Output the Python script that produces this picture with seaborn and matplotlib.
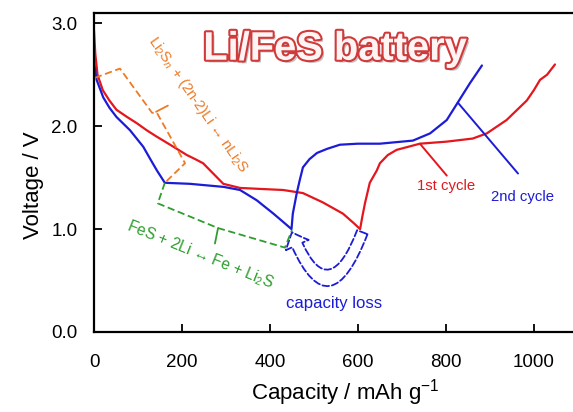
import numpy as np
import pandas as pd
import matplotlib
matplotlib.use("Agg")
import matplotlib.pyplot as plt
import matplotlib.patheffects as pe
from matplotlib.patches import FancyArrowPatch
from matplotlib import font_manager as fm
import seaborn as sns

# ---------------- data ----------------
cap_1st = [0, 3, 8, 20, 35, 51, 75, 97, 120, 142, 173, 211, 230, 248, 271, 294, 332, 380, 430, 475, 520,
           566, 590, 605,
           610, 616, 627, 643, 650, 668, 688, 741, 802, 861, 893, 938, 984, 1000, 1014, 1030, 1048]
v_1st = [2.93, 2.70, 2.50, 2.35, 2.25, 2.16, 2.09, 2.03, 1.96, 1.90, 1.82, 1.72, 1.68, 1.64, 1.54, 1.44, 1.40,
         1.39, 1.38, 1.35, 1.26, 1.15, 1.06, 1.00,
         1.12, 1.25, 1.45, 1.57, 1.64, 1.72, 1.77, 1.83, 1.85, 1.88, 1.93, 2.06, 2.25, 2.35, 2.45, 2.50, 2.60]

cap_2nd = [0, 6, 21, 35, 51, 82, 112, 128, 143, 161, 218, 295, 332, 370, 408, 430, 449,
           452, 461, 468, 475, 490, 507, 530, 559, 600, 650, 725, 764, 802, 827, 855, 882]
v_2nd = [2.62, 2.45, 2.28, 2.18, 2.09, 1.96, 1.80, 1.68, 1.57, 1.45, 1.44, 1.41, 1.38, 1.28, 1.15, 1.07, 1.00,
         1.15, 1.35, 1.48, 1.60, 1.68, 1.74, 1.78, 1.82, 1.83, 1.83, 1.86, 1.93, 2.06, 2.23, 2.42, 2.59]

cycle_names = ["1st cycle", "2nd cycle"]
x_ticks = [0, 200, 400, 600, 800, 1000]
y_ticks = [0.0, 1.0, 2.0, 3.0]
y_tick_labels = ["0.0", "1.0", "2.0", "3.0"]

# annotation geometry (data coords)
orange_bracket_x = [2, 59, 132, 143, 207, 161]
orange_bracket_y = [2.47, 2.56, 2.13, 2.13, 1.64, 1.45]
orange_tick_x = [141, 168]
orange_tick_y = [2.14, 2.20]
green_bracket_x = [161, 145, 282, 290, 434, 450]
green_bracket_y = [1.45, 1.25, 1.01, 1.00, 0.82, 0.99]
green_tick_x = [282, 275]
green_tick_y = [1.01, 0.86]

RED = "#e3171d"
BLUE = "#1c1cd6"
ORANGE = "#ee7a26"
GREEN = "#2e9e2e"

# ---------------- style ----------------
sns.set_theme(style="white")
names = {f.name for f in fm.fontManager.ttflist}
HAS_NARROW = "Liberation Sans Narrow" in names
NARROW = "Liberation Sans Narrow" if HAS_NARROW else "Liberation Sans"
NS = 1.0 if HAS_NARROW else 0.86
plt.rcParams["font.family"] = ["Liberation Sans", "DejaVu Sans"]
plt.rcParams["mathtext.fontset"] = "custom"
plt.rcParams["mathtext.rm"] = NARROW
plt.rcParams["mathtext.it"] = NARROW + ":italic"
plt.rcParams["text.color"] = "black"
plt.rcParams["axes.labelcolor"] = "black"

fig = plt.figure(figsize=(5.73, 4.12), dpi=100)
ax = fig.add_axes([94 / 573, 80 / 412, 479 / 573, 319 / 412])

df = pd.DataFrame({
    "cap": cap_1st + cap_2nd,
    "V": v_1st + v_2nd,
    "cycle": [cycle_names[0]] * len(cap_1st) + [cycle_names[1]] * len(cap_2nd),
})
sns.lineplot(data=df, x="cap", y="V", hue="cycle", sort=False, estimator=None,
             palette={cycle_names[0]: RED, cycle_names[1]: BLUE}, lw=1.6, legend=False, ax=ax)

ax.set_xlim(0, 1089)
ax.set_ylim(0, 3.1)
ax.set_xticks(x_ticks)
ax.set_yticks(y_ticks)
ax.set_yticklabels(y_tick_labels)
ax.tick_params(direction="in", length=6, width=1.3, labelsize=13.5, colors="black",
               bottom=True, left=True, top=False, right=False)
ax.tick_params(axis="y", pad=12)
ax.tick_params(axis="x", pad=16)
for s in ["left", "bottom", "top"]:
    ax.spines[s].set_color("black")
    ax.spines[s].set_linewidth(1.6)
ax.spines["right"].set_visible(False)

ax.set_xlabel("Capacity / mAh g$^{\\mathregular{-1}}$", fontsize=16, color="black")
ax.set_ylabel("Voltage / V", fontsize=16, color="black")
ax.xaxis.set_label_coords((345 - 94) / 479, -0.14)
ax.yaxis.set_label_coords(-0.105, 0.46)

# title-like label
ax.text(0.503, 0.888, "Li/FeS battery", transform=ax.transAxes, ha="center", va="center",
        fontsize=35 * 0.82 if not HAS_NARROW else 35, fontweight="bold", family=NARROW, color="#fff4f4",
        path_effects=[pe.withSimplePatchShadow(offset=(2, -2), shadow_rgbFace="#888888", alpha=0.5),
                      pe.Stroke(linewidth=3.0, foreground="#d03a3a"), pe.Normal()])

# cycle labels and leaders
ax.plot([741, 802], [1.83, 1.52], color=RED, lw=1.4)
ax.text(800, 1.42, cycle_names[0], color=RED, fontsize=12.5 * NS, family=NARROW, ha="center", va="center")
ax.plot([827, 964], [2.23, 1.54], color=BLUE, lw=1.4)
ax.text(975, 1.31, cycle_names[1], color=BLUE, fontsize=12.5 * NS, family=NARROW, ha="center", va="center")

# orange bracket
ax.plot(orange_bracket_x, orange_bracket_y, color=ORANGE, lw=1.3, ls=(0, (4, 2)))
ax.plot(orange_tick_x, orange_tick_y, color=ORANGE, lw=1.3)
ax.text(236, 2.21, "Li$_2$S$_n$ + (2n-2)Li \u2194 nLi$_2$S", color=ORANGE, fontsize=12.5 * NS,
        family=[NARROW, "DejaVu Sans"], rotation=-55, rotation_mode="anchor", ha="center", va="center")

# green bracket
ax.plot(green_bracket_x, green_bracket_y, color=GREEN, lw=1.3, ls=(0, (4, 2)))
ax.plot(green_tick_x, green_tick_y, color=GREEN, lw=1.3)
ax.text(241, 0.75, "FeS + 2Li \u2194 Fe + Li$_2$S", color=GREEN, fontsize=13 * NS,
        family=[NARROW, "DejaVu Sans"], rotation=-22, rotation_mode="anchor", ha="center", va="center")

# capacity loss arrow
arr = FancyArrowPatch(posA=(610, 0.97), posB=(450, 0.97),
                      arrowstyle="simple,head_length=10,head_width=18,tail_width=8",
                      connectionstyle="arc3,rad=-1.3", mutation_scale=1,
                      shrinkA=0, shrinkB=0, facecolor="none", edgecolor=BLUE, lw=1.3, ls="--")
ax.add_patch(arr)
ax.text(545, 0.28, "capacity loss", color=BLUE, fontsize=14 * NS, family=NARROW, ha="center", va="center")

fig.savefig("out.png", dpi=100)
